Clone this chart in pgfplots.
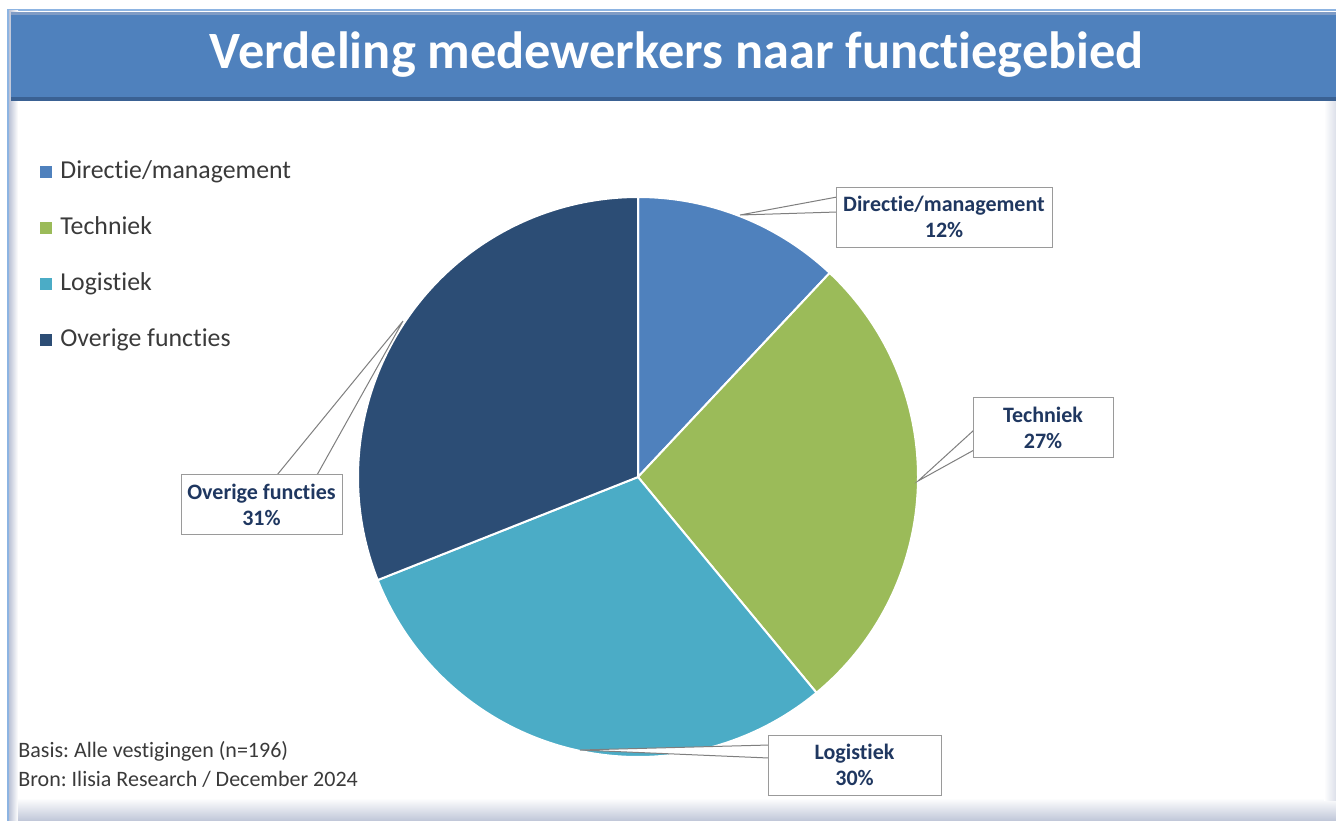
\documentclass[border=0pt]{standalone}
\usepackage{fontspec}
\setmainfont{Carlito}[Ligatures=NoCommon]
\usepackage{pgfplots}
\pgfplotsset{compat=1.18}
\usepackage{pgfplotstable}
\definecolor{cDir}{HTML}{4F81BD}
\definecolor{cTech}{HTML}{9BBB59}
\definecolor{cLog}{HTML}{4BACC6}
\definecolor{cOv}{HTML}{2C4D75}
\definecolor{barblue}{HTML}{4F81BD}
\definecolor{bartop}{HTML}{7F9CC6}
\definecolor{bardark}{HTML}{3A6193}
\definecolor{framel}{HTML}{8DB4E2}
\definecolor{navytxt}{HTML}{1F3760}
\definecolor{legtxt}{HTML}{3A3A3A}
\definecolor{boxline}{HTML}{9A9A9A}
\definecolor{leader}{HTML}{7F7F7F}
\definecolor{shadow}{HTML}{BCC3D6}

\pgfplotstableread[col sep=comma]{
name,pct
Directie/management,12
Techniek,27
Logistiek,30
Overige functies,31
}\piedata
\pgfplotstablegetelem{0}{pct}\of\piedata \let\pA\pgfplotsretval
\pgfplotstablegetelem{1}{pct}\of\piedata \let\pB\pgfplotsretval
\pgfplotstablegetelem{2}{pct}\of\piedata \let\pC\pgfplotsretval
\pgfplotstablegetelem{3}{pct}\of\piedata \let\pD\pgfplotsretval
\pgfmathsetmacro\aA{90}
\pgfmathsetmacro\aB{\aA-3.6*\pA}
\pgfmathsetmacro\aC{\aB-3.6*\pB}
\pgfmathsetmacro\aD{\aC-3.6*\pC}
\pgfmathsetmacro\aE{\aD-3.6*\pD}

\begin{document}
\frenchspacing
\begin{tikzpicture}
\useasboundingbox (0,0) rectangle (668pt,410pt);
\begin{scope}[x=0.5pt,y=-0.5pt,shift={(0pt,410pt)}]
  \fill[white] (0,0) rectangle (1336,820);
  % frame with inner shadow
  \fill[framel] (7,9) rectangle (1340,822);
  \fill[white] (9,11) rectangle (1340,822);
  \shade[left color=shadow, right color=white] (9,11) rectangle (18,822);
  \shade[top color=white, bottom color=shadow] (18,798) rectangle (1340,822);
  \shade[left color=white, right color=shadow!70] (1324,100) rectangle (1340,800);
  % title bar
  \fill[bartop] (11,12) rectangle (1340,15);
  \fill[barblue] (11,15) rectangle (1340,98);
  \fill[bardark] (11,97) rectangle (1340,101);
  \node[text=white, font=\fontsize{26.2}{30}\selectfont\bfseries] at (677,55) {Verdeling medewerkers naar functiegebied};
  % footnote
  \node[anchor=west, inner sep=0pt, text=legtxt, font=\fontsize{11}{12}\selectfont] at (18,751) {Basis: Alle vestigingen (n=196)};
  \node[anchor=west, inner sep=0pt, text=legtxt, font=\fontsize{11}{12}\selectfont] at (18,779) {Bron: Ilisia Research / December 2024};
\end{scope}

\begin{axis}[
  at={(0pt,0pt)}, anchor=south west,
  width=668pt, height=410pt, scale only axis,
  xmin=0, xmax=1336, ymin=0, ymax=820, y dir=reverse,
  hide axis, clip=false,
  legend cell align=left,
  legend image code/.code={\fill[#1] (0pt,-3pt) rectangle (6pt,3pt);},
  legend style={at={(axis cs:40,256)}, anchor=west, draw=none, fill=none,
    font=\fontsize{12.9}{15}\selectfont, text=legtxt, inner sep=0pt,
    row sep=15.2pt, column sep=4pt,
    nodes={inner sep=0pt, text height=9.5pt, text depth=3.2pt}},
]
\addlegendimage{fill=cDir, draw=none}
\addlegendentry{Directie/management}
\addlegendimage{fill=cTech, draw=none}
\addlegendentry{Techniek}
\addlegendimage{fill=cLog, draw=none}
\addlegendentry{Logistiek}
\addlegendimage{fill=cOv, draw=none}
\addlegendentry{Overige functies}

% pie slices (angles computed from the table values)
\filldraw[fill=cDir, draw=white, line width=1pt] (axis cs:638,477) -- ++(\aA:140pt) arc[start angle=\aA, end angle=\aB, radius=140pt] -- cycle;
\filldraw[fill=cTech, draw=white, line width=1pt] (axis cs:638,477) -- ++(\aB:140pt) arc[start angle=\aB, end angle=\aC, radius=140pt] -- cycle;
\filldraw[fill=cLog, draw=white, line width=1pt] (axis cs:638,477) -- ++(\aC:140pt) arc[start angle=\aC, end angle=\aD, radius=140pt] -- cycle;
\filldraw[fill=cOv, draw=white, line width=1pt] (axis cs:638,477) -- ++(\aD:140pt) arc[start angle=\aD, end angle=\aE, radius=140pt] -- cycle;

% callout pointers
\filldraw[fill=white, draw=leader, line width=0.5pt] (axis cs:740,215) -- (axis cs:837,197) -- (axis cs:837,212) -- cycle;
\filldraw[fill=white, draw=leader, line width=0.5pt] (axis cs:918,481) -- (axis cs:974,430) -- (axis cs:974,450) -- cycle;
\filldraw[fill=white, draw=leader, line width=0.5pt] (axis cs:580,750) -- (axis cs:769,745) -- (axis cs:769,758) -- cycle;
\filldraw[fill=white, draw=leader, line width=0.5pt] (axis cs:403,321) -- (axis cs:277,475) -- (axis cs:317,475) -- cycle;

% callout boxes
\tikzset{callout/.style={draw=boxline, fill=white, line width=0.5pt, inner sep=0pt,
  text=navytxt, font=\fontsize{11}{13}\selectfont\bfseries, align=center, minimum height=30pt}}
\node[callout, minimum width=108pt] at (axis cs:944,217) {Directie/management\\\pA\%};
\node[callout, minimum width=70pt] at (axis cs:1043,427.5) {Techniek\\\pB\%};
\node[callout, minimum width=86.5pt] at (axis cs:854.5,765) {Logistiek\\\pC\%};
\node[callout, minimum width=80.5pt] at (axis cs:261.5,504.5) {Overige functies\\\pD\%};
\end{axis}
\end{tikzpicture}
\end{document}
